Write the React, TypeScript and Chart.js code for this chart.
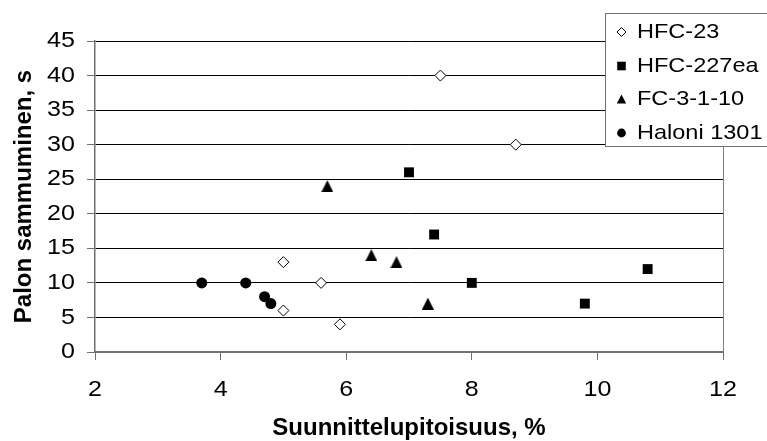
import React, { useEffect, useRef } from 'react';
import { Chart, registerables } from 'chart.js';

Chart.register(...registerables);

const seriesNames = ['HFC-23', 'HFC-227ea', 'FC-3-1-10', 'Haloni 1301'];
const hfc23X = [7.5, 8.7, 5.0, 5.6, 5.0, 5.9];
const hfc23Y = [40, 30, 13, 10, 6, 4];
const hfc227eaX = [7.0, 7.4, 8.0, 10.8, 9.8];
const hfc227eaY = [26, 17, 10, 12, 7];
const fc3110X = [5.7, 6.4, 6.8, 7.3];
const fc3110Y = [24, 14, 13, 7];
const haloniX = [3.7, 4.4, 4.7, 4.8];
const haloniY = [10, 10, 8, 7];
const xTicks = [2, 4, 6, 8, 10, 12];
const yTicks = [0, 5, 10, 15, 20, 25, 30, 35, 40, 45];
const xTitle = 'Suunnittelupitoisuus, %';
const yTitle = 'Palon sammuminen, s';

const FONT = '"Liberation Sans", Arial, sans-serif';

function pts(xs: number[], ys: number[]) {
  return xs.map((x, i) => ({ x, y: ys[i] }));
}

function makeTriangle(w: number, h: number) {
  const c = document.createElement('canvas');
  c.width = w;
  c.height = h;
  const ctx = c.getContext('2d')!;
  ctx.fillStyle = '#000';
  ctx.beginPath();
  ctx.moveTo(w / 2, 0);
  ctx.lineTo(w, h);
  ctx.lineTo(0, h);
  ctx.closePath();
  ctx.fill();
  return c;
}

function drawText(
  ctx: CanvasRenderingContext2D,
  text: string,
  x: number,
  y: number,
  align: CanvasTextAlign,
  font: string,
  sx: number,
  rot = 0
) {
  ctx.save();
  ctx.translate(x, y);
  if (rot) ctx.rotate(rot);
  ctx.scale(sx, 1);
  ctx.font = font;
  ctx.textAlign = align;
  ctx.textBaseline = 'middle';
  ctx.fillStyle = '#000';
  ctx.fillText(text, 0, 0);
  ctx.restore();
}

function drawLegendMarker(ctx: CanvasRenderingContext2D, kind: number, cx: number, cy: number) {
  ctx.save();
  ctx.fillStyle = '#000';
  ctx.strokeStyle = '#000';
  ctx.lineWidth = 1;
  ctx.beginPath();
  if (kind === 0) {
    const r = 4.5;
    ctx.moveTo(cx, cy - r);
    ctx.lineTo(cx + r, cy);
    ctx.lineTo(cx, cy + r);
    ctx.lineTo(cx - r, cy);
    ctx.closePath();
    ctx.fillStyle = '#fff';
    ctx.fill();
    ctx.stroke();
  } else if (kind === 1) {
    ctx.rect(cx - 4.3, cy - 4.3, 8.6, 8.6);
    ctx.fill();
  } else if (kind === 2) {
    ctx.moveTo(cx, cy - 4.5);
    ctx.lineTo(cx + 4.7, cy + 4.5);
    ctx.lineTo(cx - 4.7, cy + 4.5);
    ctx.closePath();
    ctx.fill();
  } else {
    ctx.arc(cx, cy, 4.4, 0, Math.PI * 2);
    ctx.fill();
  }
  ctx.restore();
}

const decorPlugin = {
  id: 'decor',
  beforeDatasetsDraw(chart: any) {
    const { ctx, chartArea } = chart;
    ctx.save();
    ctx.strokeStyle = '#808080';
    ctx.lineWidth = 1;
    ctx.beginPath();
    ctx.moveTo(Math.round(chartArea.right) + 0.5, chartArea.top);
    ctx.lineTo(Math.round(chartArea.right) + 0.5, chartArea.bottom);
    ctx.stroke();
    ctx.restore();
  },
  afterDraw(chart: any) {
    const { ctx, chartArea } = chart;
    const xs = chart.scales.x;
    const ys = chart.scales.y;
    const tickFont = '22px ' + FONT;
    yTicks.forEach((v) => {
      drawText(ctx, String(v), 75, ys.getPixelForValue(v), 'right', tickFont, 1.14);
    });
    xTicks.forEach((v) => {
      drawText(ctx, String(v), xs.getPixelForValue(v), 389.5, 'center', tickFont, 1.14);
    });
    const titleFont = 'bold 24px ' + FONT;
    drawText(ctx, xTitle, (chartArea.left + chartArea.right) / 2, 428, 'center', titleFont, 1.0);
    drawText(ctx, yTitle, 24, (chartArea.top + chartArea.bottom) / 2, 'center', titleFont, 1.0, -Math.PI / 2);

    // legend
    ctx.save();
    ctx.fillStyle = '#fff';
    ctx.strokeStyle = '#707070';
    ctx.lineWidth = 1;
    ctx.fillRect(606, 13, 200, 134);
    ctx.strokeRect(605.5, 13.5, 200, 133);
    ctx.restore();
    const rowY = [32, 66, 99, 133];
    seriesNames.forEach((name, i) => {
      drawLegendMarker(ctx, i, 621.5, rowY[i]);
      drawText(ctx, name, 637, rowY[i], 'left', '21px ' + FONT, 1.12);
    });
  },
};

export default function App() {
  const ref = useRef<HTMLCanvasElement | null>(null);
  useEffect(() => {
    if (!ref.current) return;
    const tri = makeTriangle(12, 12);
    const chart = new Chart(ref.current, {
      type: 'scatter',
      data: {
        datasets: [
          {
            label: seriesNames[0],
            data: pts(hfc23X, hfc23Y),
            pointStyle: 'rectRot',
            pointRadius: 5.5,
            backgroundColor: '#fff',
            borderColor: '#000',
            borderWidth: 1,
          },
          {
            label: seriesNames[1],
            data: pts(hfc227eaX, hfc227eaY),
            pointStyle: 'rect',
            pointRadius: 7,
            backgroundColor: '#000',
            borderColor: '#000',
            borderWidth: 0,
          },
          {
            label: seriesNames[2],
            data: pts(fc3110X, fc3110Y),
            pointStyle: tri as any,
            pointRadius: 6,
            backgroundColor: '#000',
            borderColor: '#000',
            borderWidth: 0,
          },
          {
            label: seriesNames[3],
            data: pts(haloniX, haloniY),
            pointStyle: 'circle',
            pointRadius: 5.5,
            backgroundColor: '#000',
            borderColor: '#000',
            borderWidth: 0,
          },
        ],
      },
      options: {
        animation: false,
        responsive: false,
        events: [],
        layout: { padding: { top: 41, right: 44, left: 0, bottom: 0 } },
        plugins: {
          legend: { display: false },
          tooltip: { enabled: false },
          title: { display: false },
        },
        scales: {
          x: {
            type: 'linear',
            min: 2,
            max: 12,
            ticks: { display: false, stepSize: 2 },
            grid: {
              drawOnChartArea: false,
              drawTicks: true,
              tickLength: 8,
              tickColor: '#707070',
              tickWidth: 1,
            },
            border: { display: true, color: '#707070', width: 2 },
            afterFit: (s: any) => {
              s.height = 89;
            },
          },
          y: {
            type: 'linear',
            min: 0,
            max: 45,
            ticks: { display: false, stepSize: 5 },
            grid: {
              color: '#000',
              lineWidth: 1,
              drawTicks: true,
              tickLength: 8,
              tickColor: '#707070',
              tickWidth: 1,
            },
            border: { display: true, color: '#707070', width: 1.5 },
            afterFit: (s: any) => {
              s.width = 95;
            },
          },
        },
      },
      plugins: [decorPlugin],
    });
    return () => chart.destroy();
  }, []);
  return (
    <div style={{ position: 'absolute', left: 0, top: 0, width: 767, height: 441, background: '#fff' }}>
      <canvas ref={ref} width={767} height={441} style={{ display: 'block' }} />
    </div>
  );
}
